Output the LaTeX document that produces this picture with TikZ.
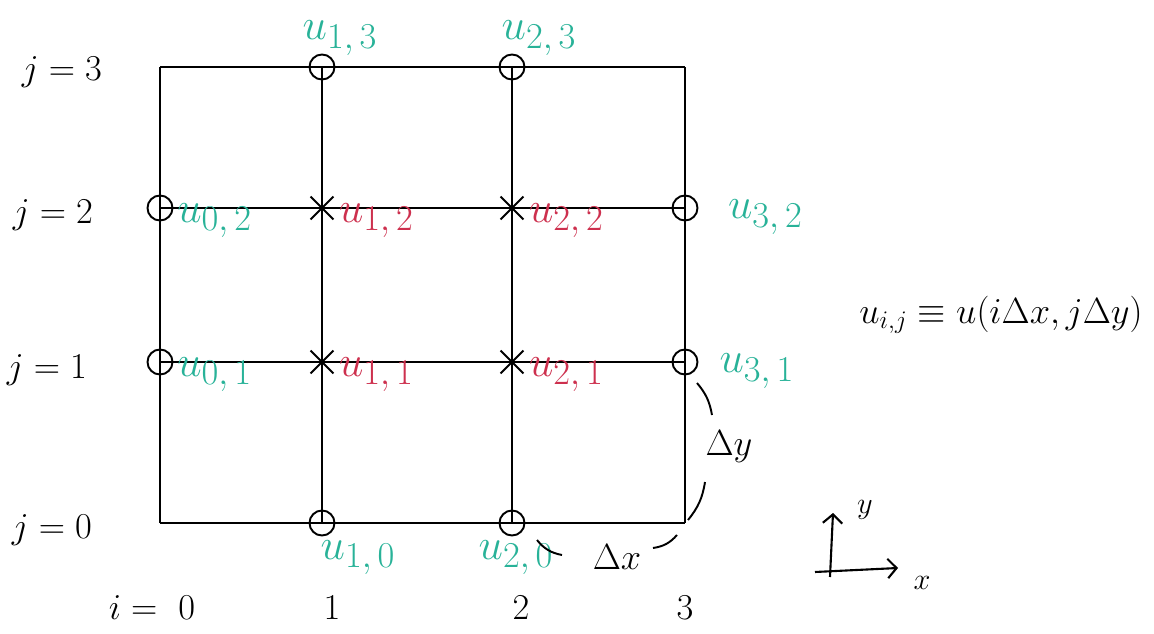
\documentclass[tikz,border=0pt]{standalone}
\usepackage{amsmath,amssymb}
\usepackage{xcolor}
\usetikzlibrary{positioning,shapes.misc,arrows.meta}
\definecolor{bndteal}{RGB}{40,178,152}
\definecolor{innred}{RGB}{205,48,78}

\begin{document}
\begin{tikzpicture}[node distance=1cm]
\tikzstyle{bnd} = [circle, draw, line width=1.1pt, minimum size=0.5cm, inner sep=0pt]
\tikzstyle{inn} = [cross out, draw, line width=1.1pt, minimum size=0.42cm, inner sep=0pt]
\tikzstyle{gridline} = [line width=1.2pt]
\tikzstyle{blbl} = [text=bndteal, font=\Huge, inner sep=1pt]
\tikzstyle{ilbl} = [text=innred, font=\Huge, inner sep=1pt]
\tikzstyle{idx} = [font=\huge]
\tikzstyle{arc} = [line width=1.1pt]
\tikzstyle{arrow} = [line width=1.2pt,->,>={Straight Barb[length=5pt,width=11pt]}]

\useasboundingbox (0,0) rectangle (23.08,12.66);

% corners
\coordinate (p00) at (3.2,2.2);
\coordinate (p30) at (13.7,2.2);
\coordinate (p03) at (3.2,11.32);
\coordinate (p33) at (13.7,11.32);

% boundary points
\node (p10) [bnd] at (6.44,2.2) {};
\node (p20) [bnd] at (10.24,2.2) {};
\node (p01) [bnd] at (3.2,5.42) {};
\node (p31) [bnd] at (13.7,5.42) {};
\node (p02) [bnd] at (3.2,8.5) {};
\node (p32) [bnd] at (13.7,8.5) {};
\node (p13) [bnd] at (6.44,11.32) {};
\node (p23) [bnd] at (10.24,11.32) {};

% interior points
\node (p11) [inn] at (6.44,5.42) {};
\node (p21) [inn] at (10.24,5.42) {};
\node (p12) [inn] at (6.44,8.5) {};
\node (p22) [inn] at (10.24,8.5) {};

% grid lines
\draw [gridline] (p00.center) -- (p30.center);
\draw [gridline] (p01.center) -- (p31.center);
\draw [gridline] (p02.center) -- (p32.center);
\draw [gridline] (p03.center) -- (p33.center);
\draw [gridline] (p00.center) -- (p03.center);
\draw [gridline] (p10.center) -- (p13.center);
\draw [gridline] (p20.center) -- (p23.center);
\draw [gridline] (p30.center) -- (p33.center);

% point labels
\node (u13) [blbl, above=0pt of p13, xshift=0.36cm, yshift=-0.08cm] {$u_{1,\,3}$};
\node (u23) [blbl, above=0pt of p23, xshift=0.54cm, yshift=-0.08cm] {$u_{2,\,3}$};
\node (u02) [blbl, right=1pt of p02, yshift=-0.25cm] {$u_{0,\,2}$};
\node (u12) [ilbl, right=2pt of p12, yshift=-0.25cm] {$u_{1,\,2}$};
\node (u22) [ilbl, right=2pt of p22, yshift=-0.25cm] {$u_{2,\,2}$};
\node (u32) [blbl, right=0.55cm of p32, yshift=-0.18cm] {$u_{3,\,2}$};
\node (u01) [blbl, right=1pt of p01, yshift=-0.25cm] {$u_{0,\,1}$};
\node (u11) [ilbl, right=2pt of p11, yshift=-0.25cm] {$u_{1,\,1}$};
\node (u21) [ilbl, right=2pt of p21, yshift=-0.25cm] {$u_{2,\,1}$};
\node (u31) [blbl, right=0.38cm of p31, yshift=-0.18cm] {$u_{3,\,1}$};
\node (u10) [blbl, below=1pt of p10, xshift=0.72cm] {$u_{1,\,0}$};
\node (u20) [blbl, below=1pt of p20, xshift=0.08cm] {$u_{2,\,0}$};

% indices
\node (j3) [idx] at (1.24,11.22) {$j=3$};
\node (j2) [idx] at (1.06,8.36) {$j=2$};
\node (j1) [idx] at (0.94,5.26) {$j=1$};
\node (j0) [idx] at (1.04,2.06) {$j=0$};
\node (i0) [idx] at (3.04,0.5) {$i=\ 0$};
\node (i1) [idx] at (6.64,0.5) {$1$};
\node (i2) [idx] at (10.42,0.5) {$2$};
\node (i3) [idx] at (13.7,0.5) {$3$};

% spacing
\node (dy) [idx] at (14.58,3.72) {$\Delta y$};
\node (dx) [idx] at (12.34,1.52) {$\Delta x$};
\coordinate (dya) at (13.94,5.0);
\coordinate (dyb) at (14.24,4.36);
\coordinate (dyc) at (14.1,3.02);
\coordinate (dyd) at (13.76,2.26);
\coordinate (dxa) at (10.74,1.86);
\coordinate (dxb) at (11.24,1.56);
\coordinate (dxc) at (13.06,1.7);
\coordinate (dxd) at (13.54,1.96);
\draw [arc] (dya) to[bend left=15] (dyb);
\draw [arc] (dyc) to[bend left=15] (dyd);
\draw [arc] (dxa) to[bend right=20] (dxb);
\draw [arc] (dxc) to[bend right=20] (dxd);

% definition
\node (def) [idx] at (20.02,6.36) {$u_{i,j}\equiv u(i\Delta x, j\Delta y)$};

% axes
\coordinate (ys) at (16.6,1.12);
\coordinate (ye) at (16.66,2.4);
\coordinate (xs) at (16.3,1.22);
\coordinate (xe) at (17.96,1.3);
\draw [arrow] (ys) -- (ye);
\draw [arrow] (xs) -- (xe);
\node (ylbl) [font=\LARGE] at (17.3,2.46) {$y$};
\node (xlbl) [font=\LARGE] at (18.44,1.0) {$x$};

\end{tikzpicture}
\end{document}
